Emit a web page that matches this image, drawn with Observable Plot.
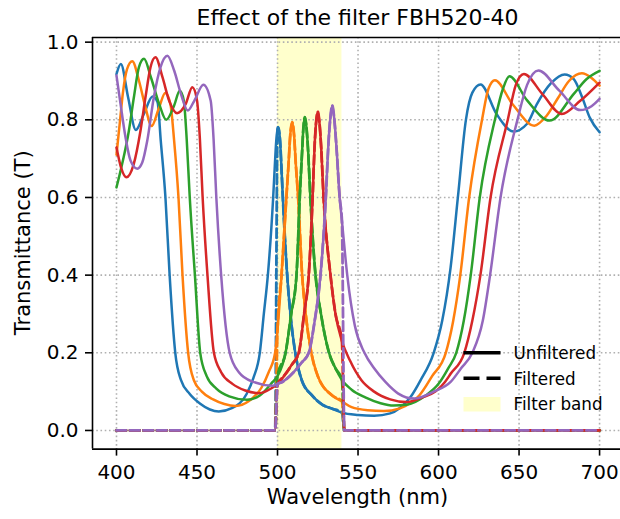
<!DOCTYPE html>
<html><head><meta charset="utf-8">
<script src="https://cdn.jsdelivr.net/npm/d3@7"></script>
<script src="https://cdn.jsdelivr.net/npm/@observablehq/plot@0.6"></script>
<style>html,body{margin:0;padding:0;background:#fff;} #chart svg{display:block;}</style>
</head><body><div id="chart"></div>
<script>
// ---- data ----
const seriesNames = ["s1", "s2", "s3", "s4", "s5"];
const seriesColors = ["#1f77b4", "#ff7f0e", "#2ca02c", "#d62728", "#9467bd"];

const wl1 = [400,402.7,407.2,412,417,422.4,425.5,427.5,430.4,433,436.5,440,445.5,452,458,463.5,472,480.8,485,489,491.5,494,497.3,498.3,499.2,500,500.4,501.6,502.4,503.3,506,508,511,515,521.5,528,534,540,550,560,570,576,582.6,588.8,597,602.3,607.5,612,617,621,626.1,636,646.5,655,661,670,678.3,684,689,694,700];
const t1  = [.918,.944,.858,.774,.815,.86,.845,.746,.6,.4,.2,.13,.094,.069,.054,.049,.058,.094,.135,.2,.3,.4,.6,.68,.745,.775,.781,.745,.68,.6,.4,.3,.2,.13,.09,.066,.056,.046,.04,.038,.044,.058,.086,.129,.2,.283,.42,.6,.8,.87,.891,.815,.77,.79,.84,.895,.917,.905,.86,.805,.768];

const wl2 = [400,402,404,406.5,409.8,414,418,421.8,426.3,430.3,433.5,435.8,438.5,441,444.5,448,453,460,467,474,482,490,494.5,498.5,500,502.5,505.5,506.9,507.9,509.1,510.3,511.3,512.8,515.3,517.5,521,525,534,540,546,556,566,576,583,588,596,604.5,609,613.5,619,627,631,635,646,659.5,667,674,681,689,695,700];
const t2  = [.71,.79,.87,.93,.951,.9,.832,.784,.83,.869,.84,.746,.6,.4,.2,.13,.1,.08,.068,.063,.075,.11,.15,.2,.26,.4,.6,.69,.76,.794,.76,.69,.6,.4,.3,.2,.14,.09,.075,.06,.052,.05,.057,.072,.09,.14,.2,.28,.4,.6,.8,.88,.902,.84,.785,.81,.855,.9,.92,.908,.888];

const wl3 = [400,403.5,407.7,410.8,413.9,417.1,421.4,426.5,430.9,435.8,439.3,441.8,443.6,445.5,448.7,452,456,462,470,481,489,497,500,505,508.5,511.8,513.8,515.3,516,517,518.1,519,520.4,523.6,527,532,536,540,546,554.5,564,572,580,592,600,606,611,615.7,620,625.6,635,640,644,655,669,684,692,700];
const t3  = [.626,.686,.772,.858,.935,.957,.909,.841,.80,.837,.875,.85,.75,.6,.4,.2,.14,.108,.088,.079,.09,.125,.14,.2,.3,.4,.6,.72,.775,.807,.775,.72,.6,.4,.3,.2,.16,.13,.105,.085,.07,.064,.066,.09,.12,.16,.2,.283,.4,.6,.8,.88,.912,.85,.798,.867,.905,.926];

const wl4 = [400,403,406.2,410.7,414.9,418,421.1,424.2,428.6,432.7,437.6,443,447.1,450,451.8,453.5,456.5,460.5,465,472,480,488.5,496,500,504,509,513.2,516.5,519.4,521.8,523,523.9,525,526.1,527.1,528.6,532.9,536,540,545,552,560,570,580,590,598,604,607.5,616,621,626,632.3,643,648,653,664.4,676.5,688,700];
const t4  = [.729,.675,.652,.686,.772,.858,.935,.961,.909,.849,.817,.841,.884,.85,.75,.6,.4,.2,.15,.12,.103,.096,.108,.12,.14,.17,.2,.3,.4,.6,.73,.79,.821,.79,.73,.6,.4,.3,.23,.18,.13,.1,.08,.073,.085,.1,.125,.146,.2,.283,.4,.6,.8,.89,.918,.867,.815,.849,.896];

const wl5 = [400,402.5,405.6,408.7,412.9,416,419.1,423.2,427.3,431.6,435.8,440,444.3,448.3,454,458.5,460.3,462,465,470.3,476,485,497,500,503,510,515,519.4,523,526.7,530,531.5,532.7,534,535.3,536.6,538.6,540,543.3,548,554,560,567,575,585,597,607.5,614,621,627.5,632,638.5,649,655,662,675,688,695,700];
const t5  = [.914,.841,.755,.695,.674,.69,.746,.858,.935,.965,.927,.867,.824,.849,.89,.849,.75,.6,.4,.2,.15,.125,.115,.12,.125,.15,.175,.2,.28,.4,.6,.73,.8,.837,.8,.73,.6,.54,.4,.27,.2,.16,.125,.095,.082,.1,.125,.16,.2,.283,.4,.6,.8,.89,.927,.875,.825,.835,.854];

const bandStart = 500, bandEnd = 540;       // filter band (nm)
const filterEdges = [498.5, 541.5];         // where the filtered curves reach zero
const xTicks = [400, 450, 500, 550, 600, 650, 700];
const yTicks = [0, 0.2, 0.4, 0.6, 0.8, 1.0];
const titleText = "Effect of the filter FBH520-40";
const xLabel = "Wavelength (nm)";
const yLabel = "Transmittance (T)";
const legendLabels = ["Unfiltered", "Filtered", "Filter band"];

// ---- build tables ----
const wls = [wl1, wl2, wl3, wl4, wl5];
const ts = [t1, t2, t3, t4, t5];
const unfiltered = wls.map((w, k) => w.map((x, i) => ({series: seriesNames[k], wl: x, t: ts[k][i]})));
const filtered = unfiltered.map(rows => {
  const first = rows[0].wl, last = rows[rows.length - 1].wl;
  return [{wl: first, t: 0}, {wl: filterEdges[0], t: 0}]
    .concat(rows.filter(d => d.wl >= bandStart && d.wl <= bandEnd).map(d => ({wl: d.wl, t: d.t})))
    .concat([{wl: filterEdges[1], t: 0}, {wl: last, t: 0}]);
});

// ---- layout ----
const W = 620, H = 519, mL = 92, mT = 37, mB = 70.4;
const xDomain = [385.1, 713], yDomain = [-0.048, 1.012];
const font = "DejaVu Sans, Liberation Sans, sans-serif";
const gridStyle = {stroke: "#b0b0b0", strokeWidth: 1.6, strokeDasharray: "1.6,2.64"};

const lineMarks = [];
seriesNames.forEach((s, k) => {
  lineMarks.push(Plot.line(unfiltered[k], {x: "wl", y: "t", stroke: seriesColors[k], strokeWidth: 2.5, curve: "monotone-x"}));
  lineMarks.push(Plot.line(filtered[k], {x: "wl", y: "t", stroke: seriesColors[k], strokeWidth: 2.8, strokeDasharray: "9.5,4", curve: "monotone-x"}));
});

const chart = Plot.plot({
  width: W, height: H,
  marginLeft: mL, marginRight: 0, marginTop: mT, marginBottom: mB,
  style: {fontFamily: font, color: "black", background: "white", overflow: "visible"},
  x: {domain: xDomain},
  y: {domain: yDomain},
  marks: [
    Plot.rect([{x1: bandStart, x2: bandEnd}], {x1: "x1", x2: "x2", y1: () => yDomain[0], y2: () => yDomain[1], fill: "#ffffcc"}),
    Plot.ruleX(xTicks, gridStyle),
    Plot.ruleY(yTicks, gridStyle),
    ...lineMarks,
    Plot.ruleX([xDomain[0]], {stroke: "black", strokeWidth: 1.6}),
    Plot.ruleY([yDomain[0]], {stroke: "black", strokeWidth: 1.6}),
    Plot.ruleY([yDomain[1]], {stroke: "black", strokeWidth: 1.6}),
    Plot.axisX(xTicks, {tickSize: 7, tickPadding: 9, fontSize: 20, strokeWidth: 1.6, label: null, tickFormat: d => String(d)}),
    Plot.axisY(yTicks, {tickSize: 7, tickPadding: 7, fontSize: 20, strokeWidth: 1.6, label: null, tickFormat: d => d.toFixed(1)})
  ]
});
document.getElementById("chart").appendChild(chart);

// ---- title, axis labels, legend ----
const svg = d3.select(chart);
const xs = v => mL + (v - xDomain[0]) / (xDomain[1] - xDomain[0]) * (W - mL);
const cx = (xs(385) + xs(715)) / 2;
svg.append("text").attr("x", cx).attr("y", 25).attr("text-anchor", "middle")
  .style("font-family", font).style("font-size", "22px").attr("fill", "black").text(titleText);
svg.append("text").attr("x", cx).attr("y", 504).attr("text-anchor", "middle")
  .style("font-family", font).style("font-size", "21px").attr("fill", "black").text(xLabel);
svg.append("text").attr("transform", `translate(30,${(mT + H - mB) / 2}) rotate(-90)`).attr("text-anchor", "middle")
  .style("font-family", font).style("font-size", "21px").attr("fill", "black").text(yLabel);

const lg = svg.append("g");
const lx0 = 463.5, lx1 = 500.5, ltx = 513.5;
lg.append("line").attr("x1", lx0).attr("x2", lx1).attr("y1", 352.7).attr("y2", 352.7).attr("stroke", "black").attr("stroke-width", 3.6);
lg.append("line").attr("x1", lx0).attr("x2", lx1).attr("y1", 378.3).attr("y2", 378.3).attr("stroke", "black").attr("stroke-width", 3.6).attr("stroke-dasharray", "16,7");
lg.append("rect").attr("x", lx0).attr("y", 397).attr("width", lx1 - lx0).attr("height", 14.5).attr("fill", "#ffffcc");
[359, 384.5, 409.5].forEach((y, i) => {
  lg.append("text").attr("x", ltx).attr("y", y).attr("text-anchor", "start").style("font-family", font).style("font-size", "16.8px").attr("fill", "black").text(legendLabels[i]);
});
</script>
</body></html>
